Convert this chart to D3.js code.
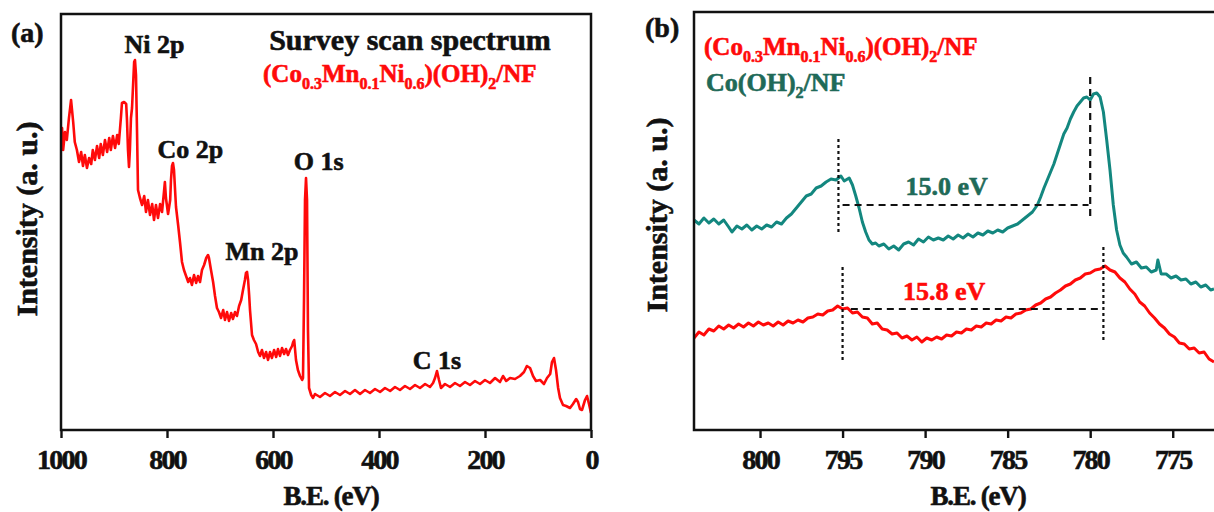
<!DOCTYPE html>
<html>
<head>
<meta charset="utf-8">
<script src="https://cdn.jsdelivr.net/npm/d3@7/dist/d3.min.js"></script>
<style>
  body { margin: 0; background: #fff; }
  text { font-family: 'Liberation Serif', 'Times New Roman', serif; font-weight: bold; }
</style>
</head>
<body>
<svg id="root" width="1214" height="512"></svg>
<script>
// survey scan, [binding energy eV, intensity a.u.]
let survey = [
  [1000, 290], [998, 302], [996, 280], [992.5, 298], [989, 290], [985, 312], [981, 330], [977, 308],
  [974, 288], [970, 280], [966, 268], [962, 278], [958.5, 264], [955, 275], [951, 262], [947, 272],
  [943, 266], [940, 280], [936, 270], [932, 284], [928, 272], [925, 286], [921, 275], [917, 290],
  [913, 278], [909, 292], [906, 280], [902, 294], [898, 282], [894, 295], [891, 286], [887, 312],
  [885, 327], [881, 328], [877, 326], [875.5, 310], [873.6, 280], [871.7, 263], [870, 280], [868, 312],
  [866, 322], [864, 345], [862, 368], [860.4, 370], [858.5, 355], [856.6, 300], [854.7, 240], [851, 232],
  [847, 225], [843, 234], [839.6, 218], [836, 230], [832, 215], [828, 226], [824.5, 210], [820.8, 225],
  [817, 212], [813, 226], [809.4, 218], [805.7, 238], [804, 248], [802, 232], [798, 216], [794, 230],
  [792.5, 250], [790.6, 264], [788.7, 267], [786.8, 260], [785, 242], [783, 223], [779, 205], [775.5, 188],
  [771.7, 168], [768, 160], [764, 154], [760, 148], [756.6, 152], [753, 145], [749, 155], [745, 147],
  [741.5, 154], [737.7, 148], [734, 160], [730, 165], [726, 172], [722.6, 175], [720.8, 172], [717, 160],
  [713, 148], [709.4, 134], [705.7, 122], [702, 118], [698, 112], [694, 120], [690.6, 110], [686.8, 118],
  [683, 109], [679, 117], [675.5, 111], [671.7, 118], [668, 114], [664, 124], [660, 130], [656.6, 140],
  [653, 150], [651, 157], [649, 158], [647, 150], [645, 135], [643.4, 120], [639.6, 95], [636, 90],
  [632, 86], [628, 78], [624.5, 74], [620.8, 80], [617, 72], [613, 78], [609.4, 70], [605.7, 78],
  [602, 72], [598, 80], [594, 73], [590.6, 81], [586.8, 74], [583, 82], [579, 76], [575.5, 81],
  [571.7, 75], [568, 80], [564, 84], [562, 88], [560, 90], [556.6, 70], [553, 60], [549, 54],
  [545, 50], [543.4, 52], [541.5, 130], [539.6, 230], [537.7, 252], [535.8, 230], [534, 100], [532, 42],
  [528, 35], [524.5, 32], [520.8, 36], [511.3, 33], [501.9, 37], [492.5, 34], [483, 38], [473.6, 35],
  [464, 39], [454.7, 36], [445.3, 40], [435.8, 36], [426.4, 40], [417, 37], [407.5, 41], [398, 38],
  [388.7, 42], [379, 39], [369.8, 43], [360.4, 40], [351, 44], [341.5, 41], [332, 45], [322.6, 42],
  [313, 46], [303.8, 43], [298, 47], [294.3, 52], [290.6, 59], [286.8, 50], [283, 42], [275.5, 46],
  [266, 43], [256.6, 47], [247.2, 44], [237.7, 48], [228.3, 45], [218.9, 49], [209.4, 46], [200, 50],
  [190.6, 47], [181, 52], [171.7, 48], [166, 54], [160, 49], [152.8, 52], [143.4, 51], [134, 54],
  [126.4, 58], [121, 64], [115, 62], [109.4, 54], [103.8, 49], [96, 50], [88.7, 46], [83, 52],
  [77, 56], [73.6, 68], [69.8, 72], [66, 60], [62, 42], [58.5, 32], [52.8, 25], [47, 24],
  [39.6, 22], [34, 26], [28, 31], [24.5, 28], [20.8, 21], [17, 20], [11.3, 30], [7.5, 34],
  [3.8, 26], [0, 17]
]

// Co 2p region, Co(OH)2/NF
let coOH = [
  [804.0, 210], [803.7, 206], [803.4, 212], [803.1, 207], [802.8, 211], [802.5, 206], [802.2, 210], [801.9, 203],
  [801.7, 198], [801.4, 204], [801.1, 201], [800.8, 205], [800.5, 200], [800.2, 204], [799.9, 201], [799.6, 205],
  [799.3, 203], [799.0, 208], [798.7, 206], [798.4, 212], [798.1, 216], [797.8, 222], [797.5, 228], [797.2, 234],
  [796.9, 236], [796.6, 242], [796.3, 244], [796.0, 248], [795.7, 251], [795.4, 250], [795.1, 254], [794.9, 249],
  [794.6, 252], [794.4, 245], [794.2, 234], [794.0, 222], [793.8, 208], [793.6, 198], [793.4, 190], [793.2, 186],
  [793.0, 187], [792.8, 184], [792.5, 186], [792.2, 181], [791.9, 184], [791.6, 180], [791.3, 186], [791.0, 188],
  [790.7, 185], [790.4, 191], [790.1, 188], [789.8, 193], [789.5, 190], [789.2, 192], [788.9, 190], [788.6, 194],
  [788.3, 191], [788.0, 195], [787.7, 192], [787.4, 196], [787.1, 193], [786.8, 197], [786.5, 195], [786.2, 199],
  [785.9, 197], [785.6, 200], [785.3, 198], [785.0, 202], [784.7, 204], [784.4, 206], [784.1, 210], [783.8, 214],
  [783.5, 218], [783.2, 225], [783.0, 233], [782.8, 242], [782.6, 250], [782.4, 258], [782.2, 266], [782.0, 276],
  [781.8, 286], [781.6, 296], [781.4, 302], [781.2, 311], [781.0, 318], [780.8, 324], [780.6, 328], [780.4, 332],
  [780.2, 333], [780.0, 330], [779.8, 336], [779.6, 337], [779.4, 333], [779.2, 318], [779.0, 290], [778.8, 260],
  [778.6, 225], [778.4, 200], [778.2, 185], [778.0, 177], [777.8, 173], [777.5, 166], [777.2, 168], [776.9, 162],
  [776.6, 163], [776.3, 158], [776.0, 160], [775.9, 170], [775.7, 156], [775.4, 156], [775.1, 152], [774.8, 154],
  [774.5, 150], [774.2, 151], [773.9, 146], [773.6, 148], [773.3, 143], [773.0, 145], [772.7, 140], [772.5, 141]
]

// Co 2p region, (Co0.3Mn0.1Ni0.6)(OH)2/NF
let cmnOH = [
  [804.0, 92], [803.7, 98], [803.4, 95], [803.1, 101], [802.8, 99], [802.5, 104], [802.2, 101], [801.9, 105],
  [801.6, 102], [801.3, 106], [801.0, 103], [800.7, 107], [800.4, 104], [800.1, 108], [799.8, 105], [799.5, 107],
  [799.2, 104], [798.9, 108], [798.6, 105], [798.3, 109], [798.0, 107], [797.7, 110], [797.4, 108], [797.1, 112],
  [796.8, 113], [796.5, 116], [796.2, 115], [795.9, 119], [795.6, 120], [795.3, 124], [795.0, 121], [794.7, 122],
  [794.4, 117], [794.1, 118], [793.8, 113], [793.5, 112], [793.2, 106], [792.9, 107], [792.6, 101], [792.3, 100],
  [792.0, 96], [791.7, 97], [791.4, 92], [791.1, 94], [790.8, 90], [790.5, 93], [790.2, 88], [789.9, 92],
  [789.6, 90], [789.3, 93], [789.0, 91], [788.7, 95], [788.4, 94], [788.1, 98], [787.8, 97], [787.5, 101],
  [787.2, 100], [786.9, 104], [786.6, 103], [786.3, 107], [786.0, 106], [785.7, 110], [785.4, 109], [785.1, 113],
  [784.8, 112], [784.5, 116], [784.2, 117], [783.9, 120], [783.6, 121], [783.3, 125], [783.0, 127], [782.7, 131],
  [782.4, 133], [782.1, 137], [781.8, 140], [781.5, 144], [781.2, 146], [780.9, 150], [780.6, 152], [780.3, 156],
  [780.0, 157], [779.7, 160], [779.4, 161], [779.1, 164], [778.8, 160], [778.5, 158], [778.2, 152], [777.9, 148],
  [777.6, 141], [777.3, 136], [777.0, 128], [776.7, 124], [776.4, 117], [776.1, 112], [775.8, 106], [775.5, 102],
  [775.2, 96], [774.9, 93], [774.6, 87], [774.3, 86], [774.0, 81], [773.7, 82], [773.4, 77], [773.1, 78],
  [772.8, 71], [772.5, 68]
]

let ticksA = [1000, 800, 600, 400, 200, 0]
let ticksB = [800, 795, 790, 785, 780, 775]

let peakLabels = [
  { name: 'Ni 2p', be: 823.6, int: 377 },
  { name: 'Co 2p', be: 755.7, int: 272 },
  { name: 'O 1s', be: 514, int: 260 },
  { name: 'Mn 2p', be: 620.8, int: 170 },
  { name: 'C 1s', be: 290.6, int: 61 }
]

// satellite splitting guides, [be1, be2, int1, int2, kind]
let guides = [
  [795.25, 795.25, 198, 293, 'dot'],
  [795.0, 780.1, 225, 225, 'dash'],
  [780.0, 780.0, 214, 358, 'dash'],
  [795.0, 795.0, 70, 165, 'dot'],
  [794.5, 779.4, 121, 121, 'dash'],
  [779.2, 779.2, 90, 185, 'dot']
]
let splits = [
  { text: '15.0 eV', be: 788.7, int: 235, series: 'co' },
  { text: '15.8 eV', be: 788.85, int: 130, series: 'cmn' }
]

let formulaCMN = [['(Co', 0], ['0.3', 1], ['Mn', 0], ['0.1', 1], ['Ni', 0], ['0.6', 1], [')(OH)', 0], ['2', 1], ['/NF', 0]]
let formulaCo = [['Co(OH)', 0], ['2', 1], ['/NF', 0]]

const RED = '#ff0a0a'
const TEAL = '#13877f'
const TEAL_TXT = '#1f6a58'
const INK = '#111'

let root = d3.select('#root')

let formula = (x, y, parts, size, color) => {
  let t = root.append('text').attr('x', x).attr('y', y).attr('fill', color).attr('font-size', size)
  let shift = 0
  parts.forEach(([s, sub]) => {
    let d = sub ? 7 : 0
    t.append('tspan').attr('dy', d - shift).attr('font-size', sub ? 16 : size).text(s)
    shift = d
  })
}

let styleAxis = (ax) => {
  ax.select('.domain').remove()
  ax.selectAll('line').attr('stroke', INK).attr('stroke-width', 2.4)
  ax.selectAll('text').attr('font-size', 28).attr('fill', INK).attr('letter-spacing', -1.8)
    .attr('font-family', "'Liberation Serif', serif")
}

// ---------- panel (a)
let xa = d3.scaleLinear().domain([1000, 0]).range([61, 591])
let ya = d3.scaleLinear().domain([0, 416]).range([430, 14])

root.append('clipPath').attr('id', 'clipA').append('rect')
  .attr('x', 61).attr('y', 14).attr('width', 530).attr('height', 416)

root.append('path')
  .datum(survey)
  .attr('clip-path', 'url(#clipA)')
  .attr('fill', 'none')
  .attr('stroke', RED)
  .attr('stroke-width', 2.6)
  .attr('stroke-linejoin', 'round')
  .attr('d', d3.line().x((d) => xa(d[0])).y((d) => ya(d[1])))

root.append('rect')
  .attr('x', 61).attr('y', 14).attr('width', 530).attr('height', 416)
  .attr('fill', 'none').attr('stroke', INK).attr('stroke-width', 2.5)

let axA = root.append('g')
  .attr('transform', 'translate(0,430)')
  .call(d3.axisBottom(xa).tickValues(ticksA).tickSize(8).tickPadding(11).tickFormat(d3.format('d')))
styleAxis(axA)

root.selectAll('.peak').data(peakLabels).enter().append('text')
  .attr('class', 'peak')
  .attr('x', (d) => xa(d.be)).attr('y', (d) => ya(d.int))
  .attr('text-anchor', 'middle').attr('font-size', 26).attr('fill', INK)
  .text((d) => d.name)

root.append('text').attr('x', 410).attr('y', 50).attr('text-anchor', 'middle')
  .attr('font-size', 30).attr('fill', INK).text('Survey scan spectrum')
formula(263, 82, formulaCMN, 25, RED)

root.append('text').attr('x', 11).attr('y', 42).attr('font-size', 28).attr('fill', INK).text('(a)')
root.append('text').attr('transform', 'translate(37,219) rotate(-90)').attr('text-anchor', 'middle')
  .attr('font-size', 30).attr('fill', INK).text('Intensity (a. u.)')
root.append('text').attr('x', 331).attr('y', 505).attr('text-anchor', 'middle')
  .attr('font-size', 27).attr('letter-spacing', -1.2).attr('fill', INK).text('B.E. (eV)')

// ---------- panel (b)
let xb = d3.scaleLinear().domain([804, 772.5]).range([694, 1214])
let yb = d3.scaleLinear().domain([0, 418]).range([430, 12])

root.append('clipPath').attr('id', 'clipB').append('rect')
  .attr('x', 694).attr('y', 12).attr('width', 530).attr('height', 418)

let lineB = d3.line().x((d) => xb(d[0])).y((d) => yb(d[1]))
;[[coOH, TEAL], [cmnOH, RED]].forEach(([s, c]) => {
  root.append('path')
    .datum(s)
    .attr('clip-path', 'url(#clipB)')
    .attr('fill', 'none')
    .attr('stroke', c)
    .attr('stroke-width', 3)
    .attr('stroke-linejoin', 'round')
    .attr('d', lineB)
})

root.selectAll('.guide').data(guides).enter().append('line')
  .attr('class', 'guide')
  .attr('x1', (d) => xb(d[0])).attr('x2', (d) => xb(d[1]))
  .attr('y1', (d) => yb(d[2])).attr('y2', (d) => yb(d[3]))
  .attr('stroke', INK).attr('stroke-width', 2.2)
  .attr('stroke-dasharray', (d) => d[4] === 'dot' ? '3,3' : '7,5')

root.selectAll('.split').data(splits).enter().append('text')
  .attr('class', 'split')
  .attr('x', (d) => xb(d.be)).attr('y', (d) => yb(d.int))
  .attr('text-anchor', 'middle').attr('font-size', 26)
  .attr('fill', (d) => d.series === 'co' ? TEAL_TXT : RED)
  .text((d) => d.text)

root.append('rect')
  .attr('x', 694).attr('y', 12).attr('width', 540).attr('height', 418)
  .attr('fill', 'none').attr('stroke', INK).attr('stroke-width', 2.5)

let axB = root.append('g')
  .attr('transform', 'translate(0,430)')
  .call(d3.axisBottom(xb).tickValues(ticksB).tickSize(8).tickPadding(11).tickFormat(d3.format('d')))
styleAxis(axB)

formula(704, 55, formulaCMN, 25, RED)
formula(706, 91, formulaCo, 26, TEAL_TXT)

root.append('text').attr('x', 645).attr('y', 37).attr('font-size', 28).attr('fill', INK).text('(b)')
root.append('text').attr('transform', 'translate(667,215) rotate(-90)').attr('text-anchor', 'middle')
  .attr('font-size', 30).attr('fill', INK).text('Intensity (a. u.)')
root.append('text').attr('x', 978).attr('y', 505).attr('text-anchor', 'middle')
  .attr('font-size', 27).attr('letter-spacing', -1.2).attr('fill', INK).text('B.E. (eV)')

// heavier strokes on glyphs, like the printed figure
root.selectAll('text').each(function () {
  let t = d3.select(this)
  t.attr('stroke', t.attr('fill')).attr('stroke-width', 0.6)
})
</script>
</body>
</html>
